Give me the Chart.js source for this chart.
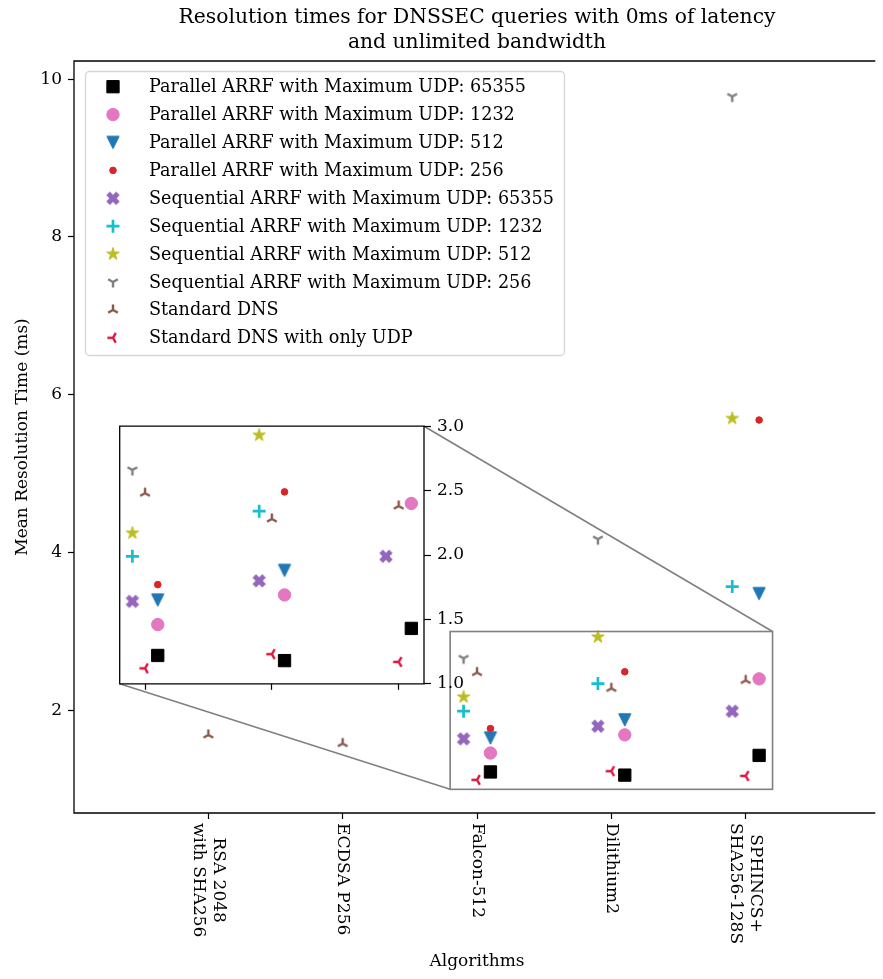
<!DOCTYPE html>
<html>
<head>
<meta charset="utf-8">
<title>Resolution times for DNSSEC queries</title>
<script src="https://cdn.jsdelivr.net/npm/chart.js@4"></script>
<style>
  html, body { margin: 0; padding: 0; overflow: hidden; background: #fff; }
  #wrap { position: relative; width: 883px; height: 979px; overflow: hidden; }
  #main { position: absolute; left: 0; top: 0; }
  #inset { position: absolute; left: 110px; top: 410px; }
</style>
</head>
<body>
<div id="wrap">
  <canvas id="main" width="883" height="979"></canvas>
  <canvas id="inset" width="370" height="290"></canvas>
</div>
<script>
// ---- data ----
const algorithms = [['RSA 2048', 'with SHA256'], ['ECDSA P256'], ['Falcon-512'], ['Dilithium2'], ['SPHINCS+', 'SHA256-128S']];

const parallel65355   = [null, null, 1.22, 1.18, 1.43];
const parallel1232    = [null, null, 1.46, 1.69, 2.40];
const parallel512     = [null, null, 1.65, 1.88, 3.48];
const parallel256     = [null, null, 1.77, 2.49, 5.68];
const sequential65355 = [null, null, 1.64, 1.80, 1.99];
const sequential1232  = [null, null, 1.99, 2.34, 3.57];
const sequential512   = [null, null, 2.17, 2.93, 5.70];
const sequential256   = [null, null, 2.66, 4.17, 9.78];
const standardDns     = [1.69, 1.58, 2.48, 2.28, 2.38];
const standardDnsUdp  = [null, null, 1.12, 1.23, 1.17];

const yTicks = [2, 4, 6, 8, 10];
const insetYTicks = [1.0, 1.5, 2.0, 2.5, 3.0];
const zoom = { xMin: 1.8, xMax: 4.2, yMin: 1.0, yMax: 3.0 };
// the original axes run from -1 to 5, but the picture is cut off at about 4.95
const xRange = { min: -1, max: 5, shown: 4.95 };

const chartTitle = ['Resolution times for DNSSEC queries with 0ms of latency', 'and unlimited bandwidth'];
const xTitle = 'Algorithms';
const yTitle = 'Mean Resolution Time (ms)';

const FONT = '"DejaVu Serif", serif';
Chart.defaults.font.family = FONT;
Chart.defaults.color = '#000';

// ---- matplotlib-like markers ----
function markerCanvas(size, draw) {
  const c = document.createElement('canvas');
  c.width = size; c.height = size;
  const g = c.getContext('2d');
  g.translate(size / 2, size / 2);
  draw(g);
  return c;
}
function polyMarker(color, pts, scale) {
  return markerCanvas(18, g => {
    g.beginPath();
    pts.forEach(([x, y], i) => i ? g.lineTo(x * scale, y * scale) : g.moveTo(x * scale, y * scale));
    g.closePath();
    g.fillStyle = color; g.strokeStyle = color; g.lineWidth = 1; g.lineJoin = 'round';
    g.fill(); g.stroke();
  });
}
function filledX(color) {
  return polyMarker(color, [[-0.25,-0.5],[0,-0.25],[0.25,-0.5],[0.5,-0.25],[0.25,0],[0.5,0.25],
    [0.25,0.5],[0,0.25],[-0.25,0.5],[-0.5,0.25],[-0.25,0],[-0.5,-0.25]], 12.5);
}
function triangleDown(color) {
  return polyMarker(color, [[0, 0.5], [-0.5, -0.5], [0.5, -0.5]], 12.3);
}
function star(color) {
  const pts = [];
  for (let i = 0; i < 10; i++) {
    const r = i % 2 ? 0.382 : 1;
    const a = -Math.PI / 2 + i * Math.PI / 5;
    pts.push([Math.cos(a) * r, Math.sin(a) * r]);
  }
  return polyMarker(color, pts, 6.6);
}
function tri(color, angles) {
  return markerCanvas(18, g => {
    g.strokeStyle = color; g.lineWidth = 2.4;
    g.beginPath();
    angles.forEach(a => {
      const r = a * Math.PI / 180;
      g.moveTo(0, 0);
      g.lineTo(Math.cos(r) * 5.6, Math.sin(r) * 5.6);
    });
    g.stroke();
  });
}

// shift: sequential left of the tick, standard on it, parallel right of it
const series = [
  { label: 'Parallel ARRF with Maximum UDP: 65355',   values: parallel65355,   shift: 0.1,  color: '#000000', style: 'rect', radius: 8.7 },
  { label: 'Parallel ARRF with Maximum UDP: 1232',    values: parallel1232,    shift: 0.1,  color: '#e377c2', style: 'circle', radius: 6.2 },
  { label: 'Parallel ARRF with Maximum UDP: 512',     values: parallel512,     shift: 0.1,  color: '#1f77b4', style: triangleDown('#1f77b4') },
  { label: 'Parallel ARRF with Maximum UDP: 256',     values: parallel256,     shift: 0.1,  color: '#d62728', style: 'circle', radius: 3.3 },
  { label: 'Sequential ARRF with Maximum UDP: 65355', values: sequential65355, shift: -0.1, color: '#9467bd', style: filledX('#9467bd') },
  { label: 'Sequential ARRF with Maximum UDP: 1232',  values: sequential1232,  shift: -0.1, color: '#17becf', style: 'cross', radius: 6.5, border: 2.7 },
  { label: 'Sequential ARRF with Maximum UDP: 512',   values: sequential512,   shift: -0.1, color: '#bcbd22', style: star('#bcbd22') },
  { label: 'Sequential ARRF with Maximum UDP: 256',   values: sequential256,   shift: -0.1, color: '#7f7f7f', style: tri('#7f7f7f', [90, 210, 330]) },
  { label: 'Standard DNS',                            values: standardDns,     shift: 0,    color: '#8c564b', style: tri('#8c564b', [270, 30, 150]) },
  { label: 'Standard DNS with only UDP',              values: standardDnsUdp,  shift: 0,    color: '#dc143c', style: tri('#dc143c', [180, 60, 300]) }
];

function buildDatasets() {
  return series.map((s, k) => ({
    label: s.label,
    data: s.values.map((v, i) => v == null ? null : { x: i + s.shift, y: v }).filter(Boolean),
    pointStyle: s.style,
    pointRadius: s.radius || 8,
    pointBackgroundColor: s.color,
    pointBorderColor: s.color,
    pointBorderWidth: s.border || 1,
    showLine: false,
    order: -k
  }));
}

function drawMarker(ctx, s, x, y) {
  if (typeof s.style === 'object') {
    ctx.drawImage(s.style, x - s.style.width / 2, y - s.style.height / 2);
    return;
  }
  ctx.save();
  ctx.fillStyle = s.color; ctx.strokeStyle = s.color; ctx.lineWidth = s.border || 1;
  Chart.helpers.drawPoint(ctx, { pointStyle: s.style, radius: s.radius, rotation: 0, borderWidth: s.border || 1 }, x, y);
  ctx.restore();
}

// ---- plugins ----
const frame = {
  id: 'frame',
  beforeDraw(chart, args, opts) {
    if (!opts.fill) return;
    const a = chart.chartArea, ctx = chart.ctx;
    ctx.save(); ctx.fillStyle = '#fff';
    ctx.fillRect(a.left, a.top, a.right - a.left, a.bottom - a.top);
    ctx.restore();
  },
  afterDraw(chart, args, opts) {
    const a = chart.chartArea, ctx = chart.ctx;
    ctx.save(); ctx.strokeStyle = '#000'; ctx.lineWidth = 1.3;
    ctx.beginPath();
    if (opts.right === false) {
      // right spine is outside the picture
      ctx.moveTo(a.right + 2, a.top); ctx.lineTo(a.left, a.top);
      ctx.lineTo(a.left, a.bottom); ctx.lineTo(a.right + 2, a.bottom);
    } else {
      ctx.rect(a.left, a.top, a.right - a.left, a.bottom - a.top);
    }
    ctx.stroke();
    ctx.restore();
  }
};

// title and x label are centred on the full axes (-1..5), not on the visible part
const titles = {
  id: 'titles',
  afterDraw(chart) {
    const ctx = chart.ctx, xs = chart.scales.x;
    const cx = xs.getPixelForValue((xRange.min + xRange.max) / 2);
    ctx.save();
    ctx.fillStyle = '#000'; ctx.textAlign = 'center'; ctx.textBaseline = 'middle';
    ctx.font = '20.3px ' + FONT;
    chartTitle.forEach((line, i) => ctx.fillText(line, cx, 17.7 + i * 25.4));
    ctx.font = '17px ' + FONT;
    ctx.fillText(xTitle, cx, 961.8);
    ctx.restore();
  }
};

const xLabels = {
  id: 'xLabels',
  afterDraw(chart) {
    const ctx = chart.ctx, xs = chart.scales.x;
    ctx.save();
    ctx.font = '17px ' + FONT; ctx.fillStyle = '#000';
    ctx.textAlign = 'center'; ctx.textBaseline = 'middle';
    algorithms.forEach((lines, i) => {
      const x = xs.getPixelForValue(i);
      const top = chart.chartArea.bottom + 10;
      const longest = Math.max(...lines.map(l => ctx.measureText(l).width));
      ctx.save();
      ctx.translate(x, top);
      ctx.rotate(Math.PI / 2);
      lines.forEach((line, k) => ctx.fillText(line, longest / 2, (k - (lines.length - 1) / 2) * 20));
      ctx.restore();
    });
    ctx.restore();
  }
};

let insetChart = null;
const zoomMarks = {
  id: 'zoomMarks',
  afterDatasetsDraw(chart) {
    const ctx = chart.ctx, xs = chart.scales.x, ys = chart.scales.y;
    const x0 = xs.getPixelForValue(zoom.xMin), x1 = xs.getPixelForValue(zoom.xMax);
    const y0 = ys.getPixelForValue(zoom.yMin), y1 = ys.getPixelForValue(zoom.yMax);
    ctx.save();
    ctx.strokeStyle = '#808080'; ctx.lineWidth = 1.6;
    ctx.strokeRect(x0, y1, x1 - x0, y0 - y1);
    if (insetChart) {
      const ia = insetChart.chartArea;
      const c = insetChart.canvas;
      const ox = c.offsetLeft, oy = c.offsetTop;
      ctx.beginPath();
      ctx.moveTo(ia.right + ox, ia.top + oy); ctx.lineTo(x1, y1);
      ctx.moveTo(ia.left + ox, ia.bottom + oy); ctx.lineTo(x0, y0);
      ctx.stroke();
    }
    ctx.restore();
  }
};

const legendBox = {
  id: 'legendBox',
  afterDraw(chart) {
    const ctx = chart.ctx;
    ctx.save();
    ctx.beginPath();
    ctx.roundRect(85.5, 71.5, 479, 284, 4);
    ctx.fillStyle = 'rgba(255,255,255,0.8)'; ctx.fill();
    ctx.strokeStyle = '#d6d6d6'; ctx.lineWidth = 1.3; ctx.stroke();
    ctx.font = '17.6px ' + FONT; ctx.fillStyle = '#000';
    ctx.textAlign = 'left'; ctx.textBaseline = 'middle';
    series.forEach((s, i) => {
      const y = 86.7 + i * 27.9;
      drawMarker(ctx, s, 113, y);
      ctx.fillStyle = '#000';
      ctx.fillText(s.label, 149, y + 1);
    });
    ctx.restore();
  }
};

const tickFont = { family: FONT, size: 17 };

// ---- inset (zoomed) axes ----
insetChart = new Chart(document.getElementById('inset'), {
  type: 'scatter',
  data: { datasets: buildDatasets() },
  options: {
    responsive: false, animation: false, events: [],
    layout: { padding: { left: 6, top: 12, right: 0, bottom: 0 } },
    plugins: { legend: { display: false }, tooltip: { enabled: false }, frame: { fill: true } },
    scales: {
      x: {
        type: 'linear', min: zoom.xMin, max: zoom.xMax,
        afterBuildTicks: s => { s.ticks = algorithms.map((_, i) => i).filter(i => i >= zoom.xMin && i <= zoom.xMax).map(v => ({ value: v })); },
        ticks: { display: false },
        grid: { drawOnChartArea: false, tickLength: 6, tickColor: '#000', tickWidth: 1.2 },
        border: { display: false },
        afterFit: s => { s.height = 15; }
      },
      y: {
        type: 'linear', position: 'right', min: zoom.yMin, max: zoom.yMax,
        afterBuildTicks: s => { s.ticks = insetYTicks.map(v => ({ value: v })); },
        ticks: { font: tickFont, color: '#000', padding: 6, callback: v => v.toFixed(1) },
        grid: { drawOnChartArea: false, tickLength: 7, tickColor: '#000', tickWidth: 1.2 },
        border: { display: false },
        afterFit: s => { s.width = 56; }
      }
    }
  },
  plugins: [frame]
});

// ---- main axes ----
const mainChart = new Chart(document.getElementById('main'), {
  type: 'scatter',
  data: { datasets: buildDatasets() },
  options: {
    responsive: false, animation: false, events: [],
    layout: { padding: { left: 0, top: 61, bottom: 0, right: 0 } },
    plugins: {
      legend: { display: false },
      tooltip: { enabled: false },
      frame: { fill: false, right: false }
    },
    scales: {
      x: {
        type: 'linear', min: xRange.min, max: xRange.shown,
        afterBuildTicks: s => { s.ticks = algorithms.map((_, i) => ({ value: i })); },
        ticks: { display: false },
        grid: { drawOnChartArea: false, tickLength: 6, tickColor: '#000', tickWidth: 1.2 },
        border: { display: false },
        afterFit: s => { s.height = 166; }
      },
      y: {
        type: 'linear', min: 0.7, max: 10.23,
        afterBuildTicks: s => { s.ticks = yTicks.map(v => ({ value: v })); },
        ticks: { font: tickFont, color: '#000', padding: 6, callback: v => String(v) },
        grid: { drawOnChartArea: false, tickLength: 6, tickColor: '#000', tickWidth: 1.2 },
        border: { display: false },
        title: { display: true, text: yTitle, font: tickFont, color: '#000', padding: { top: 12, bottom: 0 } },
        afterFit: s => { s.width = 74; }
      }
    }
  },
  plugins: [frame, zoomMarks, xLabels, legendBox, titles]
});
</script>
</body>
</html>
